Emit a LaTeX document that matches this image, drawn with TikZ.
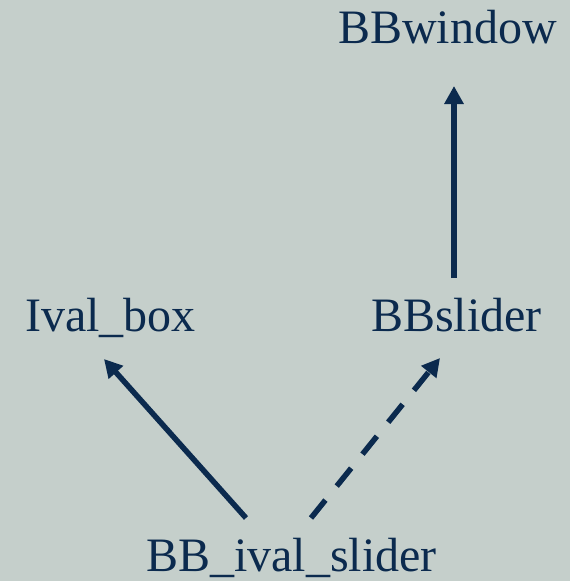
\documentclass[tikz,border=0pt]{standalone}
\usepackage{fontspec}
\setmainfont{Liberation Serif}
\usetikzlibrary{arrows.meta}
\definecolor{bgc}{HTML}{C5CFCB}
\definecolor{ink}{HTML}{0B2A4E}
\begin{document}
\begin{tikzpicture}[x=1pt,y=-1pt,
  lbl/.style={anchor=base west,inner sep=0pt,font=\fontsize{48}{56}\selectfont,text=ink},
  conn/.style={draw=ink,line width=5.5pt,-{Triangle[length=18pt,width=18.5pt]}},
  dashconn/.style={conn,dash pattern=on 23pt off 18pt}]
\fill[bgc] (0,0) rectangle (570,581);
\useasboundingbox (0,0) rectangle (570,581);
\node[lbl] (win) at (338,43) {BBwindow};
\node[lbl] (ival) at (25,331) {Ival\_box};
\node[lbl] (sld) at (371,331) {BBslider};
\node[lbl] (bbis) at (146,571) {BB\_ival\_slider};
\coordinate (sldtop) at (454,278);
\coordinate (wintop) at (454,86);
\coordinate (bbisL) at (246,518);
\coordinate (ivalB) at (104,359);
\coordinate (bbisR) at (311,518);
\coordinate (sldB) at (440,358);
\draw[conn] (sldtop) -- (wintop);
\draw[conn] (bbisL) -- (ivalB);
\draw[dashconn] (bbisR) -- (sldB);
\end{tikzpicture}
\end{document}
